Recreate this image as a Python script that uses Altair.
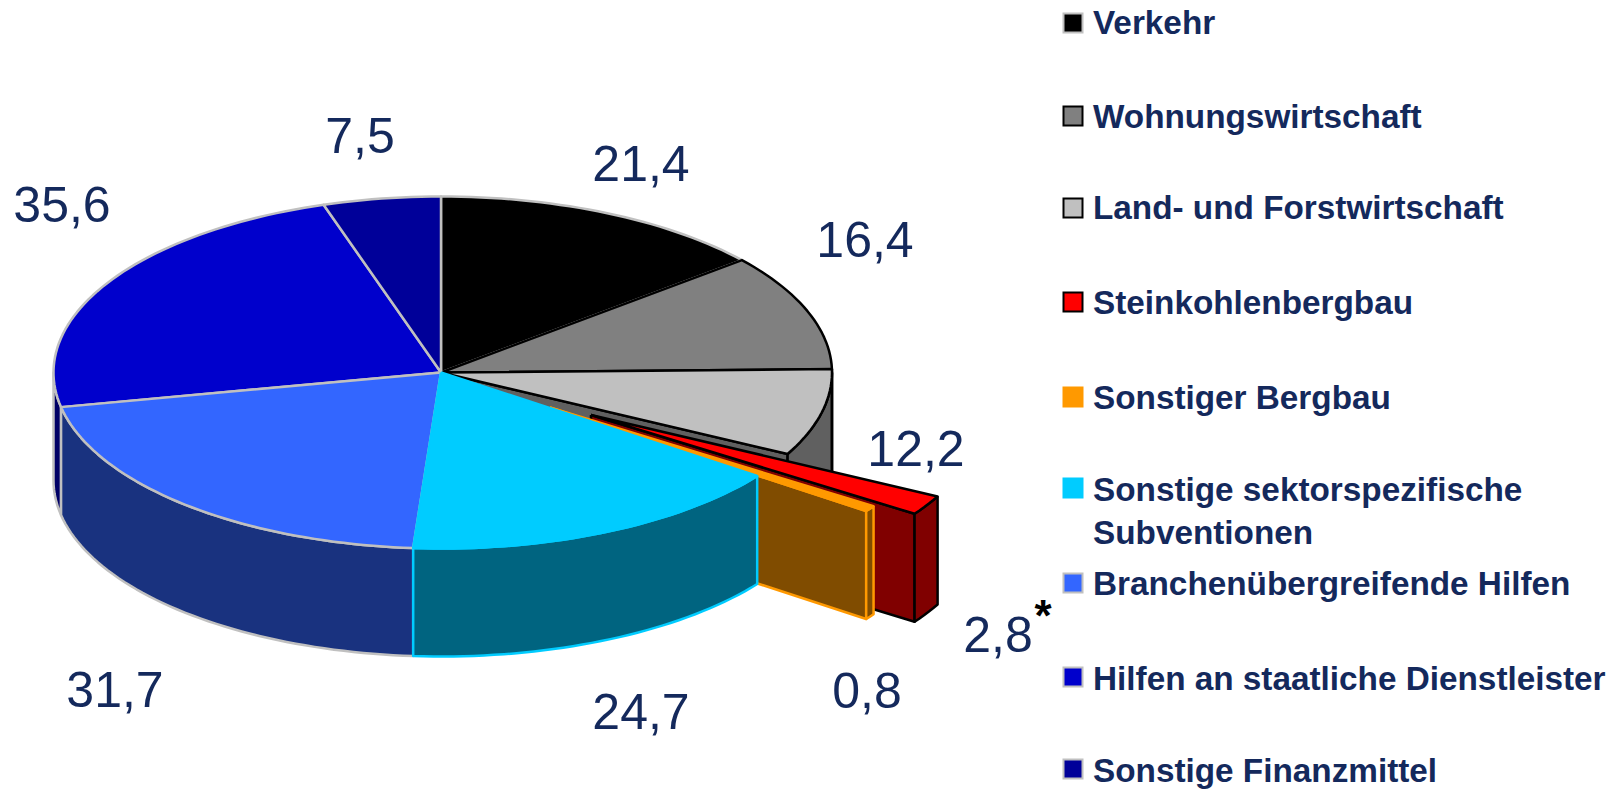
import math
import altair as alt
import pandas as pd

# --- data ---
categories = ["Verkehr", "Wohnungswirtschaft", "Land- und Forstwirtschaft", "Steinkohlenbergbau",
              "Sonstiger Bergbau", "Sonstige sektorspezifische\nSubventionen", "Branchenübergreifende Hilfen",
              "Hilfen an staatliche Dienstleister", "Sonstige Finanzmittel"]
values = [21.4, 16.4, 12.2, 2.8, 0.8, 24.7, 31.7, 35.6, 7.5]
value_labels = ["21,4", "16,4", "12,2", "2,8", "0,8", "24,7", "31,7", "35,6", "7,5"]
top_colors = ["#000000", "#808080", "#C0C0C0", "#FF0000", "#FF9900", "#00CCFF", "#3366FF", "#0000CC", "#000099"]
wall_colors = ["#000000", "#606060", "#606060", "#800000", "#804C00", "#006480", "#19327F", "#000066", "#00004C"]
edge_colors = ["#C0C0C0", "#000000", "#000000", "#000000", "#FF9900", "#00CCFF", "#C0C0C0", "#C0C0C0", "#C0C0C0"]

# --- layout of the tilted pie ---
CX, CY, RX_LEFT, RX_RIGHT, RY, DEPTH = 441.0, 372.5, 387.5, 391.0, 176.0, 108.0
EXPLODE = {3: (150.0, 42.5), 4: (109.0, 35.0)}
label_pos = [(641, 181), (865, 257), (916, 466), (998, 652), (867, 708), (641, 729), (115, 707), (62, 222), (360, 153)]
legend_y = [23, 116, 208, 302, 397, 488, 583, 677, 769]
legend_text_y = [34, 128, 219, 314, 409, 501, 595, 690, 782]

total = sum(values)
edges = [0.0]
for v in values:
    edges.append(edges[-1] + v / total * 360.0)


def rim(a, off=(0.0, 0.0), drop=0.0):
    r = math.radians(a)
    s = math.sin(r)
    return (CX + (RX_RIGHT if s > 0 else RX_LEFT) * s + off[0], CY - RY * math.cos(r) + off[1] + drop)


def arc(a0, a1, off=(0.0, 0.0), drop=0.0):
    n = max(2, int(abs(a1 - a0) / 1.5) + 2)
    return [rim(a0 + (a1 - a0) * k / (n - 1), off, drop) for k in range(n)]


rows = []


def add(pts, fill, stroke):
    pid = len({r["piece"] for r in rows})
    pts = list(pts) + [pts[0]]
    for i, (x, y) in enumerate(pts):
        rows.append({"piece": pid, "i": i, "x": x, "y": y, "fill": fill, "stroke": stroke})


def top(k):
    off = EXPLODE.get(k, (0.0, 0.0))
    add([(CX + off[0], CY + off[1])] + arc(edges[k], edges[k + 1], off), top_colors[k], edge_colors[k])


def outer_wall(k, a0, a1):
    off = EXPLODE.get(k, (0.0, 0.0))
    add(arc(a0, a1, off) + arc(a1, a0, off, DEPTH), wall_colors[k], edge_colors[k])


def radial_wall(k, a):
    off = EXPLODE.get(k, (0.0, 0.0))
    c = (CX + off[0], CY + off[1])
    add([c, rim(a, off), rim(a, off, DEPTH), (c[0], c[1] + DEPTH)], wall_colors[k], edge_colors[k])


# back-to-front painting
outer_wall(7, edges[7], 270.0)
radial_wall(2, edges[3])
outer_wall(2, 90.0, edges[3])
outer_wall(1, edges[2], 90.0)
radial_wall(3, edges[4])
outer_wall(3, edges[3], edges[4])
top(3)
radial_wall(4, edges[5])
outer_wall(4, edges[4], edges[5])
top(4)
outer_wall(6, edges[6], edges[7])
outer_wall(5, edges[5], edges[6])
for k in (0, 1, 2, 7, 8, 6, 5):
    top(k)

poly = pd.DataFrame(rows)

legend_rows = []
for k, c in enumerate(categories):
    legend_rows.append({"x": 1073, "y": legend_y[k], "fill": top_colors[k], "stroke": edge_colors[k]})
legend_df = pd.DataFrame(legend_rows)

legend_text = []
for k, c in enumerate(categories):
    parts = c.split("\n")
    legend_text.append({"x": 1093, "y": legend_text_y[k], "t": parts[0]})
    if len(parts) > 1:
        legend_text.append({"x": 1093, "y": legend_text_y[k] + 43, "t": parts[1]})
legend_text_df = pd.DataFrame(legend_text)

label_df = pd.DataFrame({"x": [p[0] for p in label_pos], "y": [p[1] for p in label_pos], "t": value_labels})
star_df = pd.DataFrame({"x": [1043], "y": [631], "t": ["*"]})

W, H = 1606, 773
xs = alt.X("x:Q", axis=None, scale=alt.Scale(domain=[8, 8 + W], range=[0, W], nice=False, zero=False))
ys = alt.Y("y:Q", axis=None, scale=alt.Scale(domain=[8, 8 + H], range=[0, H], nice=False, zero=False))

pie = alt.Chart(poly).mark_line(filled=True, strokeWidth=2.5, strokeJoin="round").encode(
    x=xs, y=ys,
    detail="piece:N",
    order=alt.Order("i:Q"),
    fill=alt.Fill("fill:N", scale=None),
    stroke=alt.Stroke("stroke:N", scale=None),
)
squares = alt.Chart(legend_df).mark_square(size=361, filled=True, strokeWidth=2, opacity=1).encode(
    x=xs, y=ys,
    fill=alt.Fill("fill:N", scale=None),
    stroke=alt.Stroke("stroke:N", scale=None),
)
legend_labels = alt.Chart(legend_text_df).mark_text(
    font="Liberation Sans", fontWeight="bold", fontSize=33.3, align="left", baseline="alphabetic", color="#14295C"
).encode(x=xs, y=ys, text="t:N")
labels = alt.Chart(label_df).mark_text(
    font="Liberation Sans", fontSize=50, align="center", baseline="alphabetic", color="#14295C"
).encode(x=xs, y=ys, text="t:N")
star = alt.Chart(star_df).mark_text(
    font="Liberation Sans", fontWeight="bold", fontSize=44, align="center", baseline="alphabetic", color="#000000"
).encode(x=xs, y=ys, text="t:N")

chart = alt.layer(pie, squares, legend_labels, labels, star).properties(
    width=W, height=H,
    padding={"left": 0, "top": 0, "right": 0, "bottom": 8},
    autosize=alt.AutoSizeParams(type="none"),
).configure_view(stroke=None)

chart.save("out.html", embed_options={"renderer": "svg", "actions": False})
